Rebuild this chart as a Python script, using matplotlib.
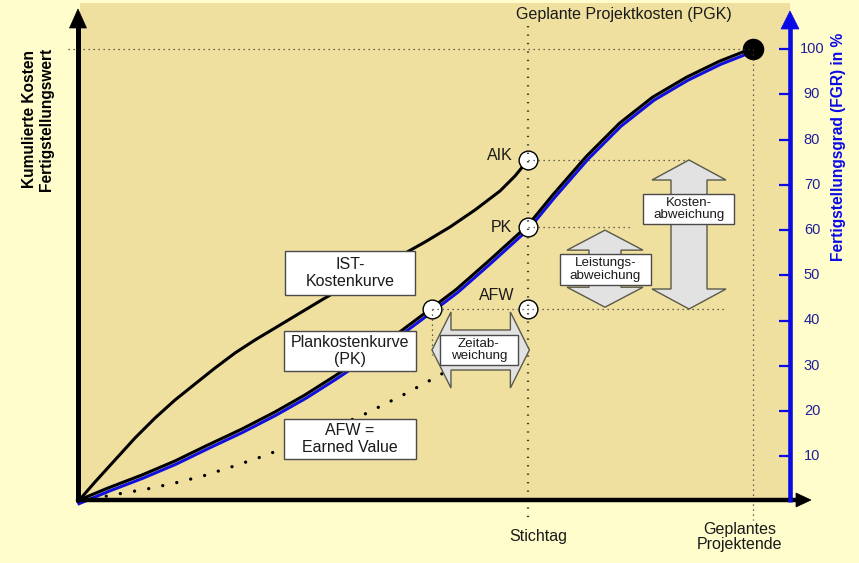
import matplotlib
matplotlib.use("Agg")
import matplotlib.pyplot as plt
from matplotlib.patches import Rectangle, Polygon
from matplotlib.transforms import offset_copy

plt.rcParams['font.family'] = ['Liberation Sans', 'DejaVu Sans']

# ---------------- data (time in % of planned duration, values in % of PGK) ----------
pk_x = [0, 4.44, 9.48, 14.37, 19.26, 24.30, 29.19, 33.63, 38.07, 42.52, 47.70, 52.44,
        56.15, 61.04, 66.67, 70.37, 75.41, 80.30, 85.19, 90.22, 95.11, 100]
pk_y = [0, 2.76, 5.64, 8.73, 12.27, 15.80, 19.56, 23.31, 27.51, 31.93, 37.24, 42.54,
        46.74, 53.15, 60.77, 67.51, 76.13, 83.43, 89.17, 93.59, 97.13, 100]

ist_x = [0, 2.52, 5.48, 8.44, 11.41, 14.37, 17.33, 20.30, 23.26, 26.22, 29.19, 32.89,
         36.59, 40.30, 44.00, 47.70, 51.41, 55.11, 58.81, 62.52, 64.74, 66.67]
ist_y = [0, 4.31, 9.17, 14.03, 18.45, 22.43, 25.97, 29.50, 32.82, 35.69, 38.34, 41.66,
         44.97, 48.07, 51.16, 54.25, 57.35, 60.66, 64.42, 68.62, 71.93, 75.47]

afw_x = [0, 5.93, 10.22, 14.37, 18.52, 22.67, 26.67, 31.41, 36.59, 42.22, 48.15, 53.63,
         58.07, 62.52, 66.67]
afw_y = [0, 1.66, 2.76, 4.09, 5.64, 7.62, 9.61, 12.27, 15.58, 19.12, 23.54, 27.96,
         32.15, 37.02, 42.54]

stichtag = 66.67
projektende = 100
aik_val = 75.47
pk_val = 60.77
afw_val = 42.54
zeit_x = 52.44          # time at which PK reaches AFW
fgr_ticks = [10, 20, 30, 40, 50, 60, 70, 80, 90, 100]

# ---------------- pixel <-> data helpers (layout only) ----------------
W, H = 859, 563
X0, Y0 = 78.0, 501.5
SX, SY = 6.75, 4.525


def X(px):
    return (px - X0) / SX


def Y(py):
    return (Y0 - py) / SY


fig = plt.figure(figsize=(W / 100, H / 100), dpi=100)
fig.patch.set_facecolor('#FFFDCB')
ax = fig.add_axes([0, 0, 1, 1])
ax.set_xlim(X(0), X(W))
ax.set_ylim(Y(H), Y(0))
ax.axis('off')

# plot area background
ax.add_patch(Rectangle((X(80), Y(500)), X(790) - X(80), Y(3) - Y(500),
                       fc='#F0E0A0', ec='none', zorder=0))

# guide dotted lines
fine = dict(color='#3A3A3A', lw=0.9, ls=(0, (1, 3)), zorder=6)
ax.plot([X(68), projektende], [100, 100], **fine)
ax.plot([projektende, projektende], [100, Y(520)], **fine)
ax.plot([stichtag, stichtag], [Y(26), Y(520)], color='#3A3A3A', lw=1.6,
        ls=(0, (0.6, 3.2)), zorder=6)
ax.plot([stichtag, X(690)], [aik_val, aik_val], **fine)
ax.plot([stichtag, X(630)], [pk_val, pk_val], **fine)
ax.plot([zeit_x, X(727)], [afw_val, afw_val], **fine)
ax.plot([zeit_x, zeit_x], [afw_val, Y(355)], **fine)

# curves
ax.plot(ist_x, ist_y, color='black', lw=2.2, zorder=3, solid_capstyle='round',
        solid_joinstyle='round')
blue_tr = offset_copy(ax.transData, fig=fig, x=1.0, y=-2.2, units='dots')
ax.plot(pk_x, pk_y, color='#1010E0', lw=2.2, zorder=3, transform=blue_tr,
        solid_joinstyle='round')
blk_tr = offset_copy(ax.transData, fig=fig, x=-0.5, y=0.8, units='dots')
ax.plot(pk_x, pk_y, color='black', lw=2.2, zorder=3.1, transform=blk_tr,
        solid_joinstyle='round')
ax.plot(afw_x, afw_y, color='black', lw=2.4, ls=(0, (0.01, 4.3)),
        dash_capstyle='round', zorder=3)

# block arrows
arrow_style = dict(fc='#E2E2E2', ec='#5A5A4A', lw=1.0, zorder=7)


def v_arrow(xc, y_lo, y_hi, head_hw, shaft_hw, head_len):
    pts = [(xc, y_hi), (xc + head_hw, y_hi - head_len), (xc + shaft_hw, y_hi - head_len),
           (xc + shaft_hw, y_lo + head_len), (xc + head_hw, y_lo + head_len), (xc, y_lo),
           (xc - head_hw, y_lo + head_len), (xc - shaft_hw, y_lo + head_len),
           (xc - shaft_hw, y_hi - head_len), (xc - head_hw, y_hi - head_len)]
    ax.add_patch(Polygon(pts, closed=True, **arrow_style))


def h_arrow(yc, x_lo, x_hi, head_hh, shaft_hh, head_len):
    pts = [(x_hi, yc), (x_hi - head_len, yc + head_hh), (x_hi - head_len, yc + shaft_hh),
           (x_lo + head_len, yc + shaft_hh), (x_lo + head_len, yc + head_hh), (x_lo, yc),
           (x_lo + head_len, yc - head_hh), (x_lo + head_len, yc - shaft_hh),
           (x_hi - head_len, yc - shaft_hh), (x_hi - head_len, yc - head_hh)]
    ax.add_patch(Polygon(pts, closed=True, **arrow_style))


v_arrow(X(689), afw_val, aik_val, 37 / SX, 18 / SX, 20 / SY)
v_arrow(X(605), afw_val + 0.4, pk_val - 0.8, 38 / SX, 16 / SX, 20 / SY)
h_arrow(Y(350), zeit_x, stichtag + 0.2, 38 / SY, 20 / SY, 19 / SX)

# circles
ax.plot([stichtag] * 3, [aik_val, pk_val, afw_val], 'o', ms=13.5, mfc='white',
        mec='black', mew=1.0, zorder=5)
ax.plot([zeit_x], [afw_val], 'o', ms=13.5, mfc='white', mec='black', mew=1.0, zorder=5)
ax.plot([projektende], [100], 'o', ms=14.5, mfc='black', mec='black', zorder=5)


# text boxes
def tbox(x1, y1, x2, y2, text, fs, ls=1.15):
    ax.add_patch(Rectangle((X(x1), Y(y2)), X(x2) - X(x1), Y(y1) - Y(y2),
                           fc='white', ec='#4A4A4A', lw=1.0, zorder=8))
    ax.text(X((x1 + x2) / 2), Y((y1 + y2) / 2), text, ha='center', va='center',
            fontsize=fs, color='#1A1A1A', linespacing=ls, zorder=9)


tbox(285, 251, 415, 295, 'IST-\nKostenkurve', 11.5)
tbox(284, 331, 416, 371, 'Plankostenkurve\n(PK)', 11.5)
tbox(284, 419, 416, 459, 'AFW =\nEarned Value', 11.5)
tbox(440, 335, 518, 365, 'Zeitab-\nweichung', 9.6, 1.05)
tbox(560, 254, 651, 285, 'Leistungs-\nabweichung', 9.6, 1.05)
tbox(643, 194, 734, 224, 'Kosten-\nabweichung', 9.6, 1.05)

# point labels
lab = dict(fontsize=11.5, color='#1A1A1A', va='center', ha='right', zorder=9)
ax.text(X(513), Y(156), 'AIK', **lab)
ax.text(X(512), Y(227), 'PK', **lab)
ax.text(X(514), Y(295), 'AFW', **lab)

ax.text(X(624), Y(14), 'Geplante Projektkosten (PGK)', fontsize=11.5, ha='center',
        va='center', color='#1A1A1A')
ax.text(X(538), Y(537), 'Stichtag', fontsize=11.5, ha='center', va='center', color='#1A1A1A')
ax.text(X(740), Y(537), 'Geplantes\nProjektende', fontsize=11.5, ha='center', va='center',
        color='#1A1A1A', linespacing=1.05)

# black axes
ax.plot([0, 0], [Y(500), Y(26)], color='black', lw=3.6, zorder=10, solid_capstyle='butt')
ax.add_patch(Polygon([(0, Y(9)), (X(86.5), Y(28)), (X(69.5), Y(28))], closed=True,
                     fc='black', ec='black', lw=0.5, zorder=10))
ax.plot([X(76.5), X(798)], [Y(500), Y(500)], color='black', lw=3.2, zorder=10,
        solid_capstyle='butt')
ax.add_patch(Polygon([(X(811), Y(500)), (X(796), Y(493)), (X(796), Y(507))], closed=True,
                     fc='black', ec='black', lw=0.5, zorder=10))

# blue FGR axis
BLUE = '#0A0AE6'
ax.plot([X(790), X(790)], [Y(502), Y(27)], color=BLUE, lw=3.3, zorder=11,
        solid_capstyle='butt')
ax.add_patch(Polygon([(X(790), Y(11)), (X(799), Y(29)), (X(781), Y(29))], closed=True,
                     fc=BLUE, ec=BLUE, lw=0.5, zorder=11))
for t in fgr_ticks:
    ax.plot([X(779), X(790)], [t, t], color=BLUE, lw=1.6, zorder=11, solid_capstyle='butt')
    ax.text(X(812), t, str(t), fontsize=10.5, color='#1E1E9A', ha='center', va='center')

ax.text(X(838), Y(147), 'Fertigstellungsgrad (FGR) in %', rotation=90, fontsize=11.2,
        fontweight='bold', color=BLUE, ha='center', va='center')
ax.text(X(38), Y(119), 'Kumulierte Kosten\nFertigstellungswert', rotation=90,
        fontsize=11.2, fontweight='bold', color='black', ha='center', va='center',
        linespacing=1.15)

fig.savefig('out.png', dpi=100, facecolor=fig.get_facecolor())
